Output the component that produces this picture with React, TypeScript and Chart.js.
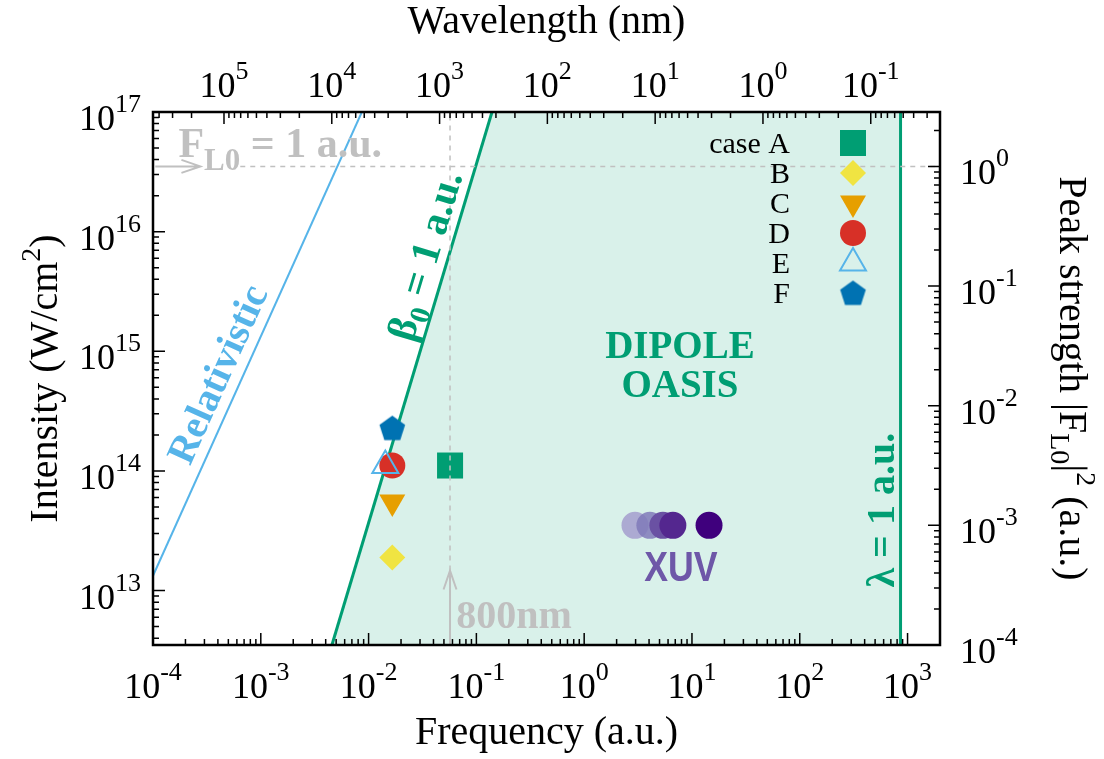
import React, { useEffect, useRef } from 'react';
import { Chart, registerables } from 'chart.js';

Chart.register(...registerables);

const SERIF = '"Liberation Serif", "Times New Roman", Times, serif';
const SANS = '"Liberation Sans", Arial, Helvetica, sans-serif';

// ---- conversions / ranges ----
const nmPerAuFreq = 45.5634; // wavelength (nm) = 45.5634 / omega (a.u.)
const auIntensity = 3.51e16; // W/cm^2 for |F|^2 = 1 a.u.
const freqRange = [1e-4, 2000];
const intensityRange = [3.51e12, 1e17];

// ---- tick labels ----
const freqTicks = [1e-4, 1e-3, 1e-2, 1e-1, 1, 10, 100, 1000];
const freqTickExps = ['-4', '-3', '-2', '-1', '0', '1', '2', '3'];
const waveTicks = [1e5, 1e4, 1e3, 1e2, 1e1, 1, 1e-1];
const waveTickExps = ['5', '4', '3', '2', '1', '0', '-1'];
const intensityTicks = [1e13, 1e14, 1e15, 1e16, 1e17];
const intensityTickExps = ['13', '14', '15', '16', '17'];
const strengthTicks = [1e-4, 1e-3, 1e-2, 1e-1, 1];
const strengthTickExps = ['-4', '-3', '-2', '-1', '0'];

// ---- cases ----
const caseNames = ['case A', 'B', 'C', 'D', 'E', 'F'];
const caseFreq = [0.057, 0.0166, 0.0166, 0.0166, 0.0143, 0.0166];
const caseIntensity = [1.11e14, 1.89e13, 5.5e13, 1.11e14, 1.11e14, 2.28e14];
const caseColors = ['#009e73', '#f0e442', '#e69f00', '#d73027', '#56b4e9', '#0072b2'];
const caseMarkers = ['rect', 'rectRot', 'triangleDown', 'circle', 'triangleOpen', 'pentagon'];

// ---- XUV points ----
const xuvFreq = [2.96, 4.07, 5.37, 6.65, 14.4];
const xuvIntensity = [3.51e13, 3.51e13, 3.51e13, 3.51e13, 3.51e13];
const xuvColors = ['rgba(160,152,204,0.8)', 'rgba(128,122,186,0.85)', '#6a51a3', '#54278f', '#3f007d'];

// ---- boundary lines ----
const relFreq = [1e-4, 0.00866];
const relIntensity = [1.33e13, 1e17];
const betaFreq = [0.00457, 0.1396];
const betaIntensity = [3.51e12, 1e17];
const lambdaFreq = [861, 861];
const lambdaIntensity = [3.51e12, 1e17];
const oasisFreq = [0.00457, 0.1396, 861];
const oasisIntensity = [3.51e12, 1e17, 1e17];

// ---- reference lines ----
const fieldLineFreq = [6.45e-4, 2000];
const fieldLineIntensity = [3.51e16, 3.51e16];
const line800Freq = [0.05695, 0.05695];
const line800Intensity = [1.47e13, 1e17];
const arrow800Freq = [0.05695, 0.05695];
const arrow800Intensity = [3.51e12, 1.47e13];
const arrowFieldFreq = [1.05e-4, 2.75e-4];
const arrowFieldIntensity = [3.51e16, 3.51e16];

const GRAY = '#c0c0c0';
const GREEN = '#009e73';
const SKY = '#56b4e9';

const pts = (xs: number[], ys: number[]) => xs.map((x, i) => ({ x, y: ys[i] }));

function makePentagon(r: number, color: string) {
  const c = document.createElement('canvas');
  const s = Math.ceil(2 * r + 2);
  c.width = s;
  c.height = s;
  const g = c.getContext('2d') as CanvasRenderingContext2D;
  g.fillStyle = color;
  g.beginPath();
  for (let i = 0; i < 5; i++) {
    const a = -Math.PI / 2 + (i * 2 * Math.PI) / 5;
    const px = s / 2 + r * Math.cos(a);
    const py = s / 2 + 1 + r * Math.sin(a);
    if (i === 0) g.moveTo(px, py);
    else g.lineTo(px, py);
  }
  g.closePath();
  g.fill();
  return c;
}

type Part = { t: string; size: number; dy?: number; bold?: boolean; family?: string };
const fontOf = (p: Part) => `${p.bold ? 'bold ' : ''}${p.size}px ${p.family || SERIF}`;

function drawParts(ctx: CanvasRenderingContext2D, parts: Part[], x: number, y: number, align: string, color: string) {
  let w = 0;
  for (const p of parts) {
    ctx.font = fontOf(p);
    w += ctx.measureText(p.t).width;
  }
  let cx = align === 'center' ? x - w / 2 : align === 'right' ? x - w : x;
  ctx.fillStyle = color;
  ctx.textAlign = 'left';
  ctx.textBaseline = 'alphabetic';
  for (const p of parts) {
    ctx.font = fontOf(p);
    ctx.fillText(p.t, cx, y + (p.dy || 0));
    cx += ctx.measureText(p.t).width;
  }
}

const pow10 = (exp: string): Part[] => [
  { t: '10', size: 36 },
  { t: exp, size: 26, dy: -18 },
];

function logTicks(min: number, max: number) {
  const majors: number[] = [];
  const minors: number[] = [];
  const lo = Math.floor(Math.log10(min));
  const hi = Math.ceil(Math.log10(max));
  for (let d = lo; d <= hi; d++) {
    for (let m = 1; m <= 9; m++) {
      const v = m * Math.pow(10, d);
      if (v < min * (1 - 1e-9) || v > max * (1 + 1e-9)) continue;
      (m === 1 ? majors : minors).push(v);
    }
  }
  return { majors, minors };
}

function drawArrow(ctx: CanvasRenderingContext2D, x1: number, y1: number, x2: number, y2: number, color: string) {
  const ang = Math.atan2(y2 - y1, x2 - x1);
  const len = 20;
  const spread = 0.33;
  ctx.save();
  ctx.strokeStyle = color;
  ctx.lineWidth = 2;
  ctx.beginPath();
  ctx.moveTo(x1, y1);
  ctx.lineTo(x2, y2);
  ctx.moveTo(x2 - len * Math.cos(ang - spread), y2 - len * Math.sin(ang - spread));
  ctx.lineTo(x2, y2);
  ctx.lineTo(x2 - len * Math.cos(ang + spread), y2 - len * Math.sin(ang + spread));
  ctx.stroke();
  ctx.restore();
}

function drawMarker(ctx: CanvasRenderingContext2D, kind: string, x: number, y: number, color: string, pentagon: HTMLCanvasElement) {
  ctx.save();
  ctx.fillStyle = color;
  ctx.strokeStyle = color;
  ctx.beginPath();
  if (kind === 'rect') {
    ctx.rect(x - 13, y - 13, 26, 26);
    ctx.fill();
  } else if (kind === 'rectRot') {
    ctx.moveTo(x, y - 13);
    ctx.lineTo(x + 13, y);
    ctx.lineTo(x, y + 13);
    ctx.lineTo(x - 13, y);
    ctx.closePath();
    ctx.fill();
  } else if (kind === 'triangleDown') {
    const r = 15;
    ctx.moveTo(x, y + r);
    ctx.lineTo(x - r * Math.sin(Math.PI / 3), y - r / 2);
    ctx.lineTo(x + r * Math.sin(Math.PI / 3), y - r / 2);
    ctx.closePath();
    ctx.fill();
  } else if (kind === 'circle') {
    ctx.arc(x, y, 13, 0, Math.PI * 2);
    ctx.fill();
  } else if (kind === 'triangleOpen') {
    const r = 15;
    ctx.moveTo(x, y - r);
    ctx.lineTo(x + r * Math.sin(Math.PI / 3), y + r / 2);
    ctx.lineTo(x - r * Math.sin(Math.PI / 3), y + r / 2);
    ctx.closePath();
    ctx.lineWidth = 2;
    ctx.stroke();
  } else if (kind === 'pentagon') {
    ctx.drawImage(pentagon, x - pentagon.width / 2, y - pentagon.height / 2);
  }
  ctx.restore();
}

export default function App() {
  const ref = useRef<HTMLCanvasElement | null>(null);

  useEffect(() => {
    const canvas = ref.current;
    if (!canvas) return;
    const pentagon = makePentagon(13.5, caseColors[5]);

    const lineDs = (xs: number[], ys: number[], color: string, width: number, order: number, dash: number[] = []) => ({
      data: pts(xs, ys),
      showLine: true,
      borderColor: color,
      borderWidth: width,
      borderDash: dash,
      pointRadius: 0,
      tension: 0,
      fill: false,
      order,
    });

    const caseStyle: any[] = [
      { pointStyle: 'rect', pointRadius: 18.4, rotation: 0 },
      { pointStyle: 'rectRot', pointRadius: 13, rotation: 0 },
      { pointStyle: 'triangle', pointRadius: 15, rotation: 180 },
      { pointStyle: 'circle', pointRadius: 13, rotation: 0 },
      { pointStyle: 'triangle', pointRadius: 15, rotation: 0 },
      { pointStyle: pentagon, pointRadius: 13.5, rotation: 0 },
    ];
    const caseOrder = [5, 5, 5, 5, 4, 5];

    const caseDatasets = caseNames.map((name, i) => ({
      label: name,
      data: [{ x: caseFreq[i], y: caseIntensity[i] }],
      showLine: false,
      pointStyle: caseStyle[i].pointStyle,
      pointRadius: caseStyle[i].pointRadius,
      rotation: caseStyle[i].rotation,
      backgroundColor: i === 4 ? 'rgba(0,0,0,0)' : caseColors[i],
      borderColor: caseColors[i],
      borderWidth: i === 4 ? 2 : 0,
      order: caseOrder[i],
    }));

    const datasets: any[] = [
      {
        data: pts(oasisFreq, oasisIntensity),
        showLine: true,
        borderWidth: 0,
        borderColor: 'rgba(0,0,0,0)',
        backgroundColor: 'rgba(0,158,115,0.15)',
        pointRadius: 0,
        tension: 0,
        fill: 'start',
        order: 20,
      },
      lineDs(relFreq, relIntensity, SKY, 2, 10),
      lineDs(betaFreq, betaIntensity, GREEN, 3, 10),
      lineDs(lambdaFreq, lambdaIntensity, GREEN, 3, 10),
      ...caseDatasets,
      {
        label: 'XUV',
        data: pts(xuvFreq, xuvIntensity),
        showLine: false,
        pointStyle: 'circle',
        pointRadius: 13.5,
        backgroundColor: xuvColors,
        borderWidth: 0,
        order: 5,
      },
      lineDs(fieldLineFreq, fieldLineIntensity, GRAY, 1.5, 1, [5, 5]),
      lineDs(line800Freq, line800Intensity, GRAY, 1.5, 1, [5, 5]),
    ];

    const decor = {
      id: 'decor',
      afterDatasetsDraw(chart: any) {
        const ctx: CanvasRenderingContext2D = chart.ctx;
        const xs = chart.scales.x;
        const ys = chart.scales.y;
        const px = (v: number) => xs.getPixelForValue(v);
        const py = (v: number) => ys.getPixelForValue(v);
        ctx.save();

        // arrows
        drawArrow(ctx, px(arrow800Freq[0]), py(arrow800Intensity[0]), px(arrow800Freq[1]), py(arrow800Intensity[1]), GRAY);
        drawArrow(ctx, px(arrowFieldFreq[0]), py(arrowFieldIntensity[0]), px(arrowFieldFreq[1]), py(arrowFieldIntensity[1]), GRAY);

        // F_L0 label
        drawParts(ctx, [
          { t: 'F', size: 42, bold: true },
          { t: 'L0', size: 31, bold: true, dy: 13 },
          { t: ' = 1 a.u.', size: 42, bold: true },
        ], px(1.72e-4), py(4.17e16), 'left', GRAY);

        // 800nm label
        drawParts(ctx, [{ t: '800nm', size: 40, bold: true }], px(0.0649), py(4.89e12), 'left', GRAY);

        // Relativistic label
        const relAng = Math.atan2(py(relIntensity[1]) - py(relIntensity[0]), px(relFreq[1]) - px(relFreq[0]));
        ctx.save();
        ctx.translate(px(3.95e-4), py(6.45e14));
        ctx.rotate(relAng);
        drawParts(ctx, [{ t: 'Relativistic', size: 40, bold: true }], 0, 13, 'center', SKY);
        ctx.restore();

        // beta0 label
        const betaAng = Math.atan2(py(betaIntensity[1]) - py(betaIntensity[0]), px(betaFreq[1]) - px(betaFreq[0]));
        ctx.save();
        ctx.translate(px(0.0334), py(6.3e15));
        ctx.rotate(betaAng);
        drawParts(ctx, [
          { t: 'β', size: 41, bold: true },
          { t: '0', size: 29, bold: true, dy: 9 },
          { t: ' = 1 a.u.', size: 41, bold: true },
        ], 0, 13, 'center', GREEN);
        ctx.restore();

        // lambda label
        ctx.save();
        ctx.translate(px(743), py(4.7e13));
        ctx.rotate(-Math.PI / 2);
        drawParts(ctx, [{ t: 'λ = 1 a.u.', size: 40, bold: true }], 0, 0, 'center', GREEN);
        ctx.restore();

        // DIPOLE OASIS
        drawParts(ctx, [{ t: 'DIPOLE', size: 39, bold: true }], px(7.73), py(8.8e14), 'center', GREEN);
        drawParts(ctx, [{ t: 'OASIS', size: 39, bold: true }], px(7.73), py(4.14e14), 'center', GREEN);

        // XUV
        ctx.save();
        ctx.translate(px(7.89), py(1.21e13));
        ctx.scale(0.85, 1);
        drawParts(ctx, [{ t: 'XUV', size: 42, bold: true, family: SANS }], 0, 0, 'center', '#6e57a8');
        ctx.restore();

        ctx.restore();
      },
      afterDraw(chart: any) {
        const ctx: CanvasRenderingContext2D = chart.ctx;
        const a = chart.chartArea;
        const xs = chart.scales.x;
        const ys = chart.scales.y;
        const x2 = chart.scales.x2;
        const y2 = chart.scales.y2;
        ctx.save();

        // ticks
        ctx.strokeStyle = '#000';
        ctx.lineWidth = 1.5;
        ctx.beginPath();
        const bt = logTicks(xs.min, xs.max);
        bt.majors.forEach((v) => { const p = xs.getPixelForValue(v); ctx.moveTo(p, a.bottom); ctx.lineTo(p, a.bottom - 12); });
        bt.minors.forEach((v) => { const p = xs.getPixelForValue(v); ctx.moveTo(p, a.bottom); ctx.lineTo(p, a.bottom - 6); });
        const tt = logTicks(x2.min, x2.max);
        tt.majors.forEach((v) => { const p = x2.getPixelForValue(v); ctx.moveTo(p, a.top); ctx.lineTo(p, a.top + 12); });
        tt.minors.forEach((v) => { const p = x2.getPixelForValue(v); ctx.moveTo(p, a.top); ctx.lineTo(p, a.top + 6); });
        const lt = logTicks(ys.min, ys.max);
        lt.majors.forEach((v) => { const p = ys.getPixelForValue(v); ctx.moveTo(a.left, p); ctx.lineTo(a.left + 12, p); });
        lt.minors.forEach((v) => { const p = ys.getPixelForValue(v); ctx.moveTo(a.left, p); ctx.lineTo(a.left + 6, p); });
        const rt = logTicks(y2.min, y2.max);
        rt.majors.forEach((v) => { const p = y2.getPixelForValue(v); ctx.moveTo(a.right, p); ctx.lineTo(a.right - 12, p); });
        rt.minors.forEach((v) => { const p = y2.getPixelForValue(v); ctx.moveTo(a.right, p); ctx.lineTo(a.right - 6, p); });
        ctx.stroke();

        // frame
        ctx.lineWidth = 2.5;
        ctx.strokeRect(a.left, a.top, a.right - a.left, a.bottom - a.top);

        // tick labels
        freqTicks.forEach((v, i) => drawParts(ctx, pow10(freqTickExps[i]), xs.getPixelForValue(v), a.bottom + 53, 'center', '#000'));
        waveTicks.forEach((v, i) => drawParts(ctx, pow10(waveTickExps[i]), x2.getPixelForValue(v), a.top - 15, 'center', '#000'));
        intensityTicks.forEach((v, i) => drawParts(ctx, pow10(intensityTickExps[i]), a.left - 12, ys.getPixelForValue(v) + 18, 'right', '#000'));
        strengthTicks.forEach((v, i) => drawParts(ctx, pow10(strengthTickExps[i]), a.right + 20, y2.getPixelForValue(v) + 18, 'left', '#000'));

        // axis titles
        const cx = (a.left + a.right) / 2;
        const cy = (a.top + a.bottom) / 2;
        drawParts(ctx, [{ t: 'Frequency (a.u.)', size: 40 }], cx, a.bottom + 99, 'center', '#000');
        drawParts(ctx, [{ t: 'Wavelength (nm)', size: 40 }], cx, a.top - 79, 'center', '#000');
        ctx.save();
        ctx.translate(a.left - 96, cy);
        ctx.rotate(-Math.PI / 2);
        drawParts(ctx, [
          { t: 'Intensity (W/cm', size: 40 },
          { t: '2', size: 28, dy: -17 },
          { t: ')', size: 40 },
        ], 0, 0, 'center', '#000');
        ctx.restore();
        ctx.save();
        ctx.translate(a.right + 120, cy);
        ctx.rotate(Math.PI / 2);
        drawParts(ctx, [
          { t: 'Peak strength |F', size: 40 },
          { t: 'L0', size: 28, dy: 9 },
          { t: '|', size: 40 },
          { t: '2', size: 28, dy: -17 },
          { t: ' (a.u.)', size: 40 },
        ], 0, 0, 'center', '#000');
        ctx.restore();

        // legend
        const mx = a.right - 87;
        caseNames.forEach((name, i) => {
          const yy = a.top + 31 + i * 30;
          drawParts(ctx, [{ t: name, size: 30 }], mx - 63, yy + 10, 'right', '#000');
          drawMarker(ctx, caseMarkers[i], mx, yy, caseColors[i], pentagon);
        });

        ctx.restore();
      },
    };

    const chart = new Chart(canvas, {
      type: 'scatter',
      data: { datasets },
      options: {
        animation: false,
        responsive: false,
        events: [],
        layout: { padding: { left: 153, right: 164, top: 112, bottom: 114 } },
        plugins: { legend: { display: false }, tooltip: { enabled: false } },
        scales: {
          x: { type: 'logarithmic', min: freqRange[0], max: freqRange[1], display: false },
          y: { type: 'logarithmic', min: intensityRange[0], max: intensityRange[1], display: false },
          x2: {
            type: 'logarithmic',
            position: 'top',
            min: nmPerAuFreq / freqRange[1],
            max: nmPerAuFreq / freqRange[0],
            reverse: true,
            display: false,
          },
          y2: {
            type: 'logarithmic',
            position: 'right',
            min: intensityRange[0] / auIntensity,
            max: intensityRange[1] / auIntensity,
            display: false,
          },
        },
      } as any,
      plugins: [decor],
    });

    return () => chart.destroy();
  }, []);

  return (
    <div style={{ position: 'absolute', left: 0, top: 0, width: 1104, height: 759, background: '#fff' }}>
      <canvas ref={ref} width={1104} height={759} style={{ display: 'block' }} />
    </div>
  );
}
